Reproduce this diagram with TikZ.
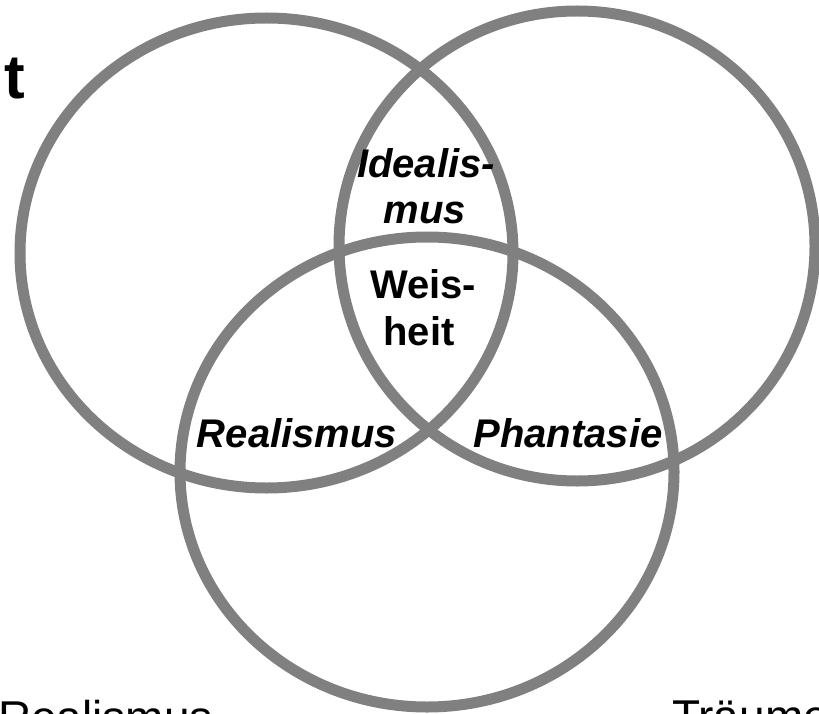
\documentclass[tikz,border=0pt]{standalone}
\usepackage{fontspec}
\setmainfont{Liberation Sans}
\begin{document}
\begin{tikzpicture}[x=1pt,y=-1pt,
  ring/.style={draw=ringgray,line width=11pt},
  lbl/.style={font=\fontsize{40}{46}\selectfont\bfseries\itshape,inner sep=0pt,anchor=base},
  lblup/.style={font=\fontsize{40}{46}\selectfont\bfseries,inner sep=0pt,anchor=base},
  big/.style={font=\fontsize{46}{52}\selectfont,inner sep=0pt,anchor=base west}]
\definecolor{ringgray}{HTML}{808080}
\useasboundingbox (0,0) rectangle (819,714);
\draw[ring] (266.5,253) ellipse [x radius=246.5, y radius=235];
\draw[ring] (577,246) ellipse [x radius=238, y radius=235];
\draw[ring] (427,472) ellipse [x radius=247, y radius=235];
\node[font=\fontsize{62}{64}\selectfont\bfseries,inner sep=0pt,anchor=base east] (tt) at (25,99) {t};
\node[lbl] (id1) at (426,178) {Idealis-};
\node[lbl] (id2) at (425,223) {mus};
\node[lblup] (we1) at (423,298) {Weis-};
\node[lblup] (we2) at (419,345) {heit};
\node[lbl] (real) at (297,447) {Realismus};
\node[lbl] (phan) at (568,447) {Phantasie};
\node[big] (rb) at (-2,733) {Realismus};
\node[big] (tr) at (672,732) {Träume};
\end{tikzpicture}
\end{document}
